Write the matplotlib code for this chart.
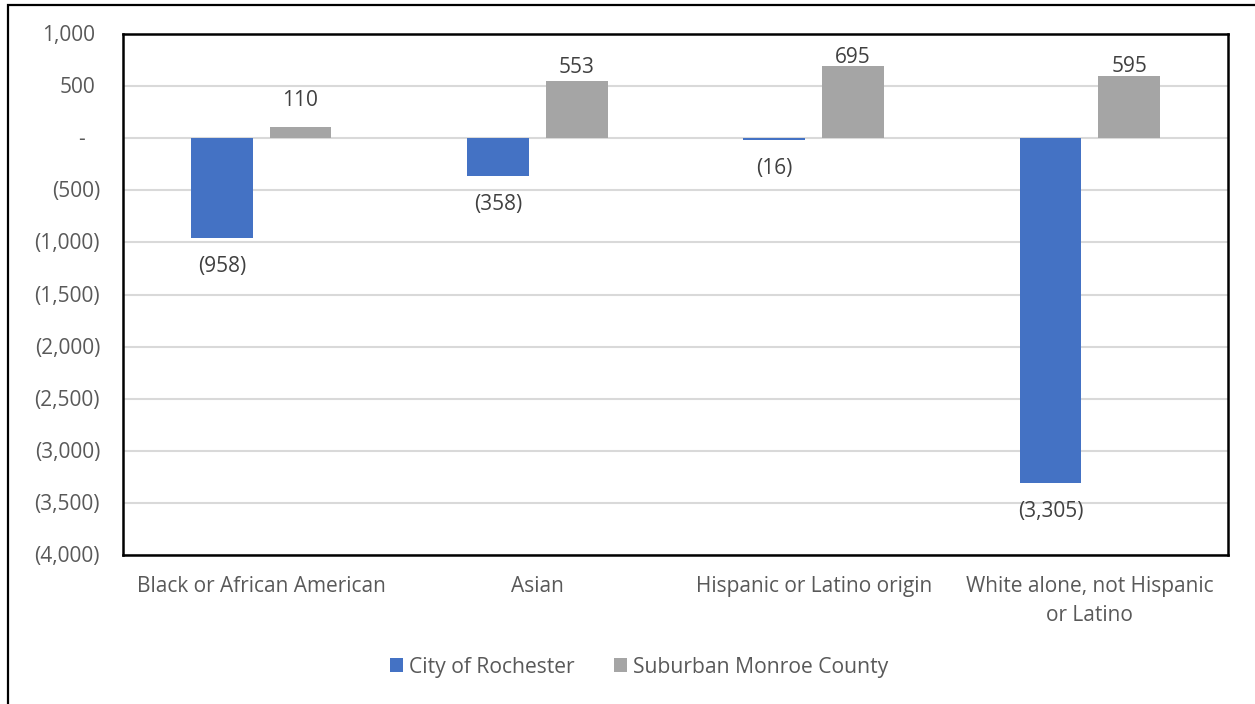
import matplotlib
matplotlib.use("Agg")
import matplotlib.pyplot as plt
from matplotlib.patches import Rectangle
from matplotlib.transforms import blended_transform_factory
import numpy as np

categories = ["Black or African American", "Asian", "Hispanic or Latino origin",
              "White alone, not Hispanic\nor Latino"]
series_names = ["City of Rochester", "Suburban Monroe County"]
city = [-958, -358, -16, -3305]
suburban = [110, 553, 695, 595]
yticks = [1000, 500, 0, -500, -1000, -1500, -2000, -2500, -3000, -3500, -4000]

# label offsets (pixels from bar end) – manual placements as in the reference
city_label_off = [-28, -29, -28.5, -29]
sub_label_off = [26, 13, 8, 10]

BLUE = "#4472C4"
GRAY = "#A5A5A5"
TXT = "#595959"
LBL = "#404040"
FONT = "Open Sans"
FS = 15
LFS = 15.2

W, H = 1255, 704
fig = plt.figure(figsize=(W / 100, H / 100), dpi=100)
fig.patch.set_facecolor("white")

# outer chart border (cropped on right and bottom)
fig.patches.append(Rectangle((8 / W, -0.1), 1.2, 1 - 5 / H + 0.1, transform=fig.transFigure,
                             fill=False, edgecolor="black", linewidth=1.6, zorder=0))

ax = fig.add_axes([123 / W, (H - 555) / H, 1105 / W, 521 / H])
ax.set_xlim(-0.5, len(categories) - 0.5)
ax.set_ylim(-4000, 1000)

x = np.arange(len(categories))
bw = 0.224
off = 0.1425
ax.bar(x - off, city, bw, color=BLUE, zorder=3, label=series_names[0])
ax.bar(x + off, suburban, bw, color=GRAY, zorder=3, label=series_names[1])

for v in yticks:
    ax.axhline(v, color="#D9D9D9", linewidth=1.5, zorder=1)

for s in ax.spines.values():
    s.set_linewidth(1.8)
    s.set_color("black")
ax.set_xticks([])
ax.set_yticks([])


def fmt(v):
    if v > 0:
        return f"{v:,}"
    if v < 0:
        return f"({-v:,})"
    return "-"


# y tick labels (Excel accounting-style alignment)
tr = blended_transform_factory(fig.transFigure, ax.transData)
for v in yticks:
    if v < 0:
        xp, ha = 100 / W, "right"
    elif v > 0:
        xp, ha = 95 / W, "right"
    else:
        xp, ha = 81 / W, "center"
    ax.annotate(fmt(v), (xp, v), xycoords=tr, xytext=(0, -1.5), textcoords="offset pixels",
                ha=ha, va="center", fontsize=FS, color=TXT, family=FONT, annotation_clip=False)

# data labels
for xi, v, o in zip(x, city, city_label_off):
    ax.annotate(fmt(v), (xi - off, v), xytext=(0, o), textcoords="offset pixels",
                ha="center", va="center", fontsize=FS, color=LBL, family=FONT)
for xi, v, o in zip(x, suburban, sub_label_off):
    ax.annotate(fmt(v), (xi + off, v), xytext=(0, o), textcoords="offset pixels",
                ha="center", va="center", fontsize=FS, color=LBL, family=FONT, zorder=5)

# category labels
trx = blended_transform_factory(ax.transData, fig.transFigure)
for xi, c in zip(x, categories):
    fig.text(xi, 1 - 576 / H, c, transform=trx, ha="center", va="top", fontsize=FS,
             color=TXT, family=FONT, linespacing=1.5)

leg = fig.legend(loc="center", bbox_to_anchor=(639 / W, 1 - 667 / H), ncol=2, frameon=False,
                 prop={"family": FONT, "size": LFS}, handlelength=0.62, handleheight=0.66,
                 handletextpad=0.28, columnspacing=1.9, labelcolor=TXT,
                 borderaxespad=0, borderpad=0)

fig.savefig("out.png", dpi=100, facecolor="white")
